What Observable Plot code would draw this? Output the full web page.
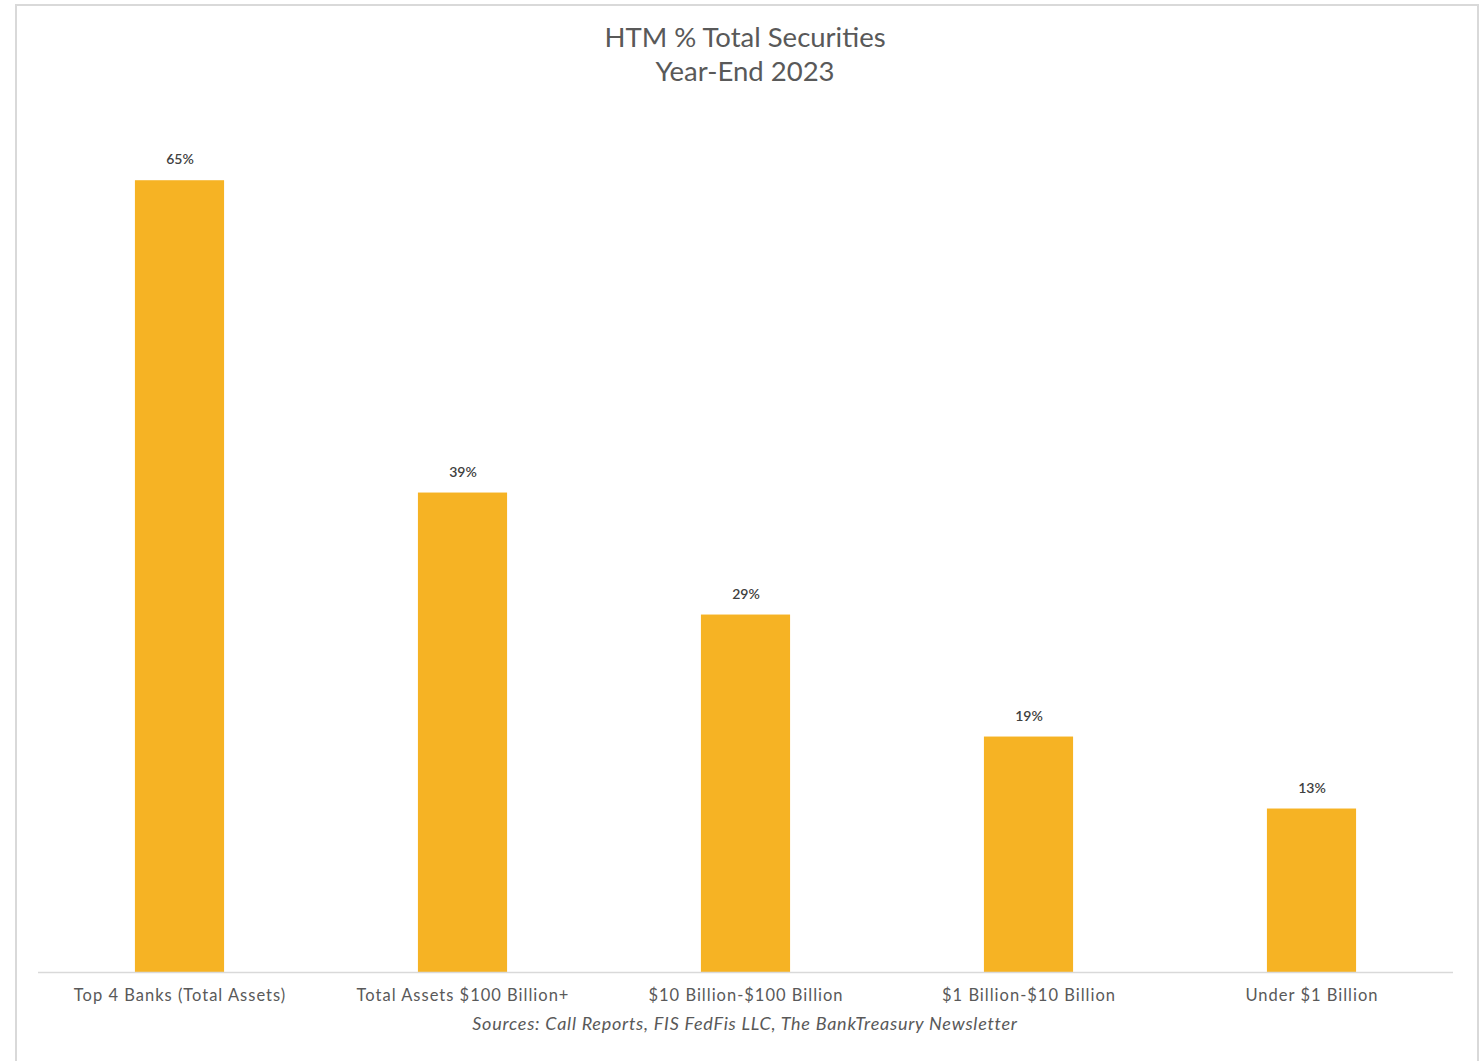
<!DOCTYPE html>
<html>
<head>
<meta charset="utf-8">
<script src="https://cdn.jsdelivr.net/npm/d3@7"></script>
<script src="https://cdn.jsdelivr.net/npm/@observablehq/plot@0.6"></script>
<style>
  html, body { margin: 0; padding: 0; background: #fff; }
  body { width: 1483px; height: 1061px; position: relative; overflow: hidden; font-family: Lato, "Open Sans", sans-serif; }
  #frame { position: absolute; left: 15px; top: 4px; width: 1464px; height: 1070px; border: 2px solid #d9d9d9; box-sizing: border-box; }
  #title { position: absolute; left: 0; top: 20px; width: 1490px; text-align: center; color: #595959; font-size: 27.5px; line-height: 34px; }
  #chart { position: absolute; left: 0; top: 100px; }
  #caption { position: absolute; left: 0; top: 1012px; width: 1490px; text-align: center; color: #595959; font-size: 18px; font-style: italic; letter-spacing: 0.75px; }
</style>
</head>
<body>
<div id="frame"></div>
<div id="title">HTM % Total Securities<br>Year-End 2023</div>
<div id="chart"></div>
<div id="caption">Sources: Call Reports, FIS FedFis LLC, The BankTreasury Newsletter</div>
<script>
const categories = [
  "Top 4 Banks (Total Assets)",
  "Total Assets $100 Billion+",
  "$10 Billion-$100 Billion",
  "$1 Billion-$10 Billion",
  "Under $1 Billion"
];
const htmPct = [64.9, 39.3, 29.3, 19.3, 13.4];

const data = categories.map((c, i) => ({category: c, value: htmPct[i]}));
const fmt = d => d3.format(".0%")(d.value / 100);

const chart = Plot.plot({
  width: 1483,
  height: 910,
  marginTop: 18,
  marginBottom: 38,
  marginLeft: 38,
  marginRight: 30,
  style: {fontFamily: "Lato, 'Open Sans', sans-serif", background: "transparent"},
  x: {domain: categories, paddingInner: 0.685, paddingOuter: 0.3425, round: false, label: null},
  y: {domain: [0, 70], axis: null},
  marks: [
    Plot.barY(data, {x: "category", y: "value", fill: "#F6B324"}),
    Plot.ruleY([0], {stroke: "#d9d9d9", strokeWidth: 1.5}),
    Plot.text(data, {x: "category", y: "value", text: fmt, dy: -21, fill: "#404040", fontSize: 14, fontWeight: 600, style: "letter-spacing: 0.6px"}),
    Plot.axisX({tickSize: 0, tickPadding: 17, fontSize: 16.5, color: "#595959", label: null})
  ]
});
chart.querySelectorAll("[aria-label='x-axis tick label'] text").forEach(t => t.style.letterSpacing = "1px");
document.getElementById("chart").appendChild(chart);
</script>
</body>
</html>
